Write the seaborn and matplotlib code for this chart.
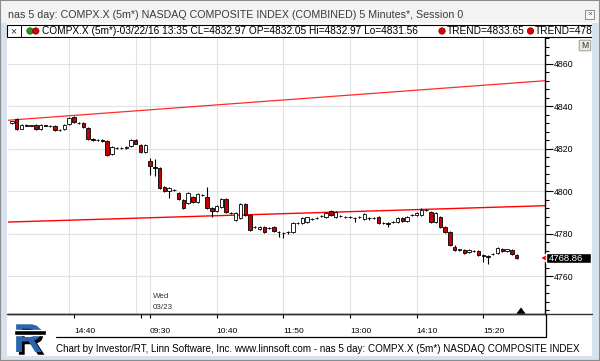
import matplotlib
matplotlib.use("Agg")
import matplotlib.pyplot as plt
from matplotlib.patches import Rectangle, Polygon, Circle, FancyBboxPatch
from matplotlib.ticker import MultipleLocator
import matplotlib.patheffects as pe
import numpy as np
import seaborn as sns

W, H = 600, 361

# 5 minute bars: 0 = 03/22 13:35 ... 28 = 15:55, 29 = 03/23 09:30 ... 106 = 15:55
opens = [4832.05, 4834.2, 4829.6, 4831.2, 4831.0, 4831.5, 4829.5, 4831.1, 4830.9, 4831.0,
         4829.0, 4829.2, 4831.8, 4835.1, 4832.4, 4832.2, 4829.9, 4824.5, 4824.1, 4824.0,
         4823.8, 4817.6, 4820.6, 4820.4, 4820.5, 4821.5, 4824.4, 4822.0, 4818.6,
         4814.4, 4811.3, 4811.0, 4802.1, 4800.2, 4800.9, 4799.3, 4796.0, 4794.6, 4797.4,
         4795.1, 4798.5, 4797.4, 4792.2, 4790.8, 4792.7, 4796.5, 4790.0, 4786.6, 4787.5,
         4794.1, 4788.9, 4783.2, 4782.5, 4783.3, 4782.7, 4783.3, 4781.0, 4780.5, 4780.8,
         4780.9, 4785.1, 4785.2, 4785.6, 4787.1, 4787.4, 4788.4, 4788.0, 4790.8, 4788.0,
         4788.4, 4788.1, 4788.1, 4787.6, 4788.0, 4787.1, 4787.6, 4787.4, 4788.0, 4785.1,
         4785.0, 4785.5, 4785.6, 4787.5, 4786.1, 4788.8, 4788.9, 4789.0, 4791.2, 4790.4,
         4785.6, 4788.0, 4783.3, 4780.9, 4773.9, 4772.6, 4772.5, 4771.5, 4771.9, 4772.0,
         4770.1, 4769.6, 4770.5, 4771.1, 4772.9, 4771.8, 4772.4, 4770.2]
highs = [4832.97, 4834.7, 4831.9, 4831.6, 4831.4, 4831.9, 4831.7, 4831.5, 4831.2, 4831.4,
         4829.5, 4831.9, 4835.0, 4835.5, 4832.9, 4832.6, 4830.3, 4825.0, 4824.5, 4824.5,
         4824.2, 4821.3, 4821.1, 4820.8, 4821.2, 4824.8, 4824.9, 4822.4, 4822.3,
         4815.8, 4815.5, 4811.5, 4802.5, 4802.0, 4801.3, 4799.8, 4796.4, 4799.8, 4797.9,
         4799.2, 4799.0, 4802.0, 4792.6, 4793.6, 4796.9, 4796.9, 4790.4, 4790.3, 4794.5,
         4794.5, 4789.3, 4783.8, 4783.7, 4783.7, 4783.3, 4783.7, 4781.6, 4780.9, 4781.5,
         4785.6, 4785.7, 4787.9, 4788.2, 4787.5, 4788.0, 4788.8, 4790.3, 4791.2, 4790.8,
         4789.0, 4788.6, 4788.5, 4788.0, 4788.4, 4789.8, 4788.0, 4788.0, 4788.4, 4785.6,
         4785.4, 4786.1, 4787.9, 4787.9, 4788.4, 4789.4, 4790.3, 4792.2, 4791.8, 4790.8,
         4790.3, 4788.4, 4783.7, 4781.3, 4774.8, 4773.1, 4772.9, 4772.9, 4772.5, 4772.4,
         4770.5, 4770.0, 4771.1, 4773.8, 4773.3, 4773.1, 4772.8, 4770.6]
lows = [4831.56, 4828.9, 4829.2, 4830.6, 4830.6, 4829.0, 4829.1, 4830.7, 4830.4, 4828.4,
        4828.3, 4828.9, 4831.4, 4832.3, 4831.6, 4830.0, 4824.3, 4823.6, 4823.6, 4823.2,
        4816.8, 4817.2, 4819.9, 4820.0, 4820.1, 4821.1, 4822.1, 4818.2, 4818.2,
        4807.8, 4807.5, 4801.2, 4799.8, 4797.0, 4800.2, 4796.0, 4791.8, 4794.2, 4794.7,
        4794.7, 4797.9, 4791.8, 4788.0, 4790.4, 4792.3, 4790.0, 4789.3, 4786.2, 4787.1,
        4788.5, 4781.5, 4782.6, 4782.1, 4780.5, 4782.2, 4781.0, 4778.6, 4778.0, 4780.2,
        4780.5, 4784.6, 4784.8, 4785.2, 4786.6, 4786.9, 4788.1, 4787.6, 4788.5, 4787.6,
        4787.9, 4787.5, 4787.5, 4785.6, 4787.6, 4786.7, 4786.4, 4786.9, 4784.8, 4784.5,
        4783.3, 4785.0, 4785.2, 4785.7, 4785.7, 4788.3, 4788.5, 4788.6, 4790.8, 4785.2,
        4785.2, 4782.9, 4780.5, 4774.4, 4772.0, 4772.2, 4770.7, 4771.1, 4771.5, 4769.7,
        4767.0, 4765.9, 4770.1, 4770.7, 4771.6, 4771.4, 4770.2, 4768.0]
closes = [4832.97, 4829.5, 4831.5, 4831.0, 4831.1, 4829.4, 4831.3, 4830.9, 4830.7, 4829.0,
          4829.1, 4831.5, 4834.6, 4832.7, 4832.2, 4830.4, 4824.7, 4824.2, 4824.0, 4823.8,
          4817.2, 4820.9, 4820.5, 4820.3, 4820.8, 4824.4, 4822.5, 4818.6, 4821.9,
          4812.0, 4811.0, 4801.6, 4800.2, 4801.6, 4800.7, 4796.5, 4792.2, 4799.3, 4795.1,
          4798.8, 4798.4, 4792.2, 4790.8, 4793.2, 4796.5, 4790.4, 4789.9, 4789.9, 4794.1,
          4788.9, 4781.9, 4783.3, 4783.3, 4780.9, 4782.8, 4781.4, 4780.9, 4780.3, 4780.9,
          4785.2, 4785.2, 4787.5, 4787.8, 4787.0, 4787.5, 4788.5, 4789.9, 4788.9, 4790.4,
          4788.5, 4788.0, 4788.0, 4787.5, 4788.0, 4789.4, 4787.5, 4787.5, 4785.2, 4785.0,
          4784.9, 4785.6, 4787.5, 4786.1, 4788.0, 4788.9, 4789.9, 4791.3, 4791.3, 4785.6,
          4789.9, 4783.3, 4780.9, 4774.8, 4772.5, 4772.7, 4771.1, 4772.5, 4772.0, 4770.1,
          4769.5, 4769.4, 4770.6, 4773.4, 4772.0, 4772.7, 4770.6, 4768.86]

# trend lines, read at the left and right edge of the plot
trend_x = [-0.84, 111.97]
trend_hi = [4833.5, 4852.1]
trend_lo = [4785.6, 4793.3]

tick_bars = [13, 27, 29, 43, 57, 71, 85, 99]
tick_labels = ["14:40", "", "09:30", "10:40", "11:50", "13:00", "14:10", "15:20"]
grid_bars = [12, 26, 29, 43, 57, 71, 85, 99]

title = "nas 5 day: COMPX.X (5m*) NASDAQ COMPOSITE INDEX (COMBINED) 5 Minutes*, Session 0"
legend_main = "COMPX.X (5m*)-03/22/16 13:35 CL=4832.97 OP=4832.05 Hi=4832.97 Lo=4831.56"
legend_trends = ["TREND=4833.65", "TREND=4786"]
footer = ("Chart by Investor/RT, Linn Software, Inc. www.linnsoft.com - nas 5 day: "
          "COMPX.X (5m*) NASDAQ COMPOSITE INDEX")
last_price = "4768.86"

sns.set_theme(style="white")
plt.rcParams["font.family"] = ["Liberation Sans", "DejaVu Sans"]

FRAME = "#d6e2ee"
DOWN = "#c40000"
GRID = "#e2e2e2"

fig = plt.figure(figsize=(W / 100, H / 100), dpi=100)
fig.patch.set_facecolor("white")


def px_axes(z):
    a = fig.add_axes([0, 0, 1, 1], zorder=z)
    a.set_xlim(0, W); a.set_ylim(H, 0)
    a.axis("off")
    a.patch.set_alpha(0)
    return a


bg = px_axes(0)
bg.add_patch(Rectangle((0, 0), W, H, facecolor=FRAME, edgecolor="#8c8c8c", lw=1.5))
bg.add_patch(Rectangle((1, 1), W - 2, 22, facecolor="#f3f3f3", edgecolor="none"))
bg.add_patch(Rectangle((7, 23), 585, 333, facecolor="white", edgecolor="none"))
bg.text(8, 15.5, title, fontsize=7.7, color="#3a3a3a", va="center", ha="left")
# close icon
bg.add_patch(Rectangle((585, 10), 9, 9, facecolor="#f7f7f7", edgecolor="#8a8a8a", lw=0.7))
bg.text(589.5, 14.5, "×", fontsize=6, color="#555", ha="center", va="center")

# legend row
bg.add_patch(Rectangle((7, 24.5), 590, 12.5, facecolor="white", edgecolor="black", lw=0.8))
bg.plot([20.5, 20.5], [24.5, 37], color="black", lw=0.7)
bg.text(13.5, 30.8, "×", fontsize=7.5, ha="center", va="center", color="#333")
bg.add_patch(Circle((30, 31), 3.2, facecolor="#1f9a1f", edgecolor="#0b4d0b", lw=0.5))
bg.add_patch(Circle((35.8, 31), 3.2, facecolor="#e00000", edgecolor="#700000", lw=0.5))
bg.text(41.5, 31, legend_main, fontsize=7.3, va="center", ha="left", color="black")
for dot_x, txt in zip([442, 530.5], legend_trends):
    bg.add_patch(Circle((dot_x, 31), 3.2, facecolor="#e00000", edgecolor="#700000", lw=0.5))
    bg.text(dot_x + 4.5, 31, txt, fontsize=7.3, va="center", ha="left", color="black")

# logo: blue R with a black shadow and a small banner
bg.text(28, 352, "R", fontsize=29, fontweight="bold", color="#2a66b0", ha="center",
        va="baseline",
        path_effects=[pe.SimplePatchShadow(offset=(2, -2), shadow_rgbFace="black", alpha=1),
                      pe.Normal()])
bg.add_patch(Rectangle((14, 330), 32, 4.5, facecolor="black", zorder=5))

bg.text(56, 348.5, footer, fontsize=7.1, va="center", ha="left", color="black")

# main price plot
ax = fig.add_axes([8 / W, (H - 314) / H, (545 - 8) / W, (314 - 38) / H], zorder=1)
ax.set_facecolor("white")

for b in grid_bars:
    ax.axvline(b, color=GRID, lw=0.8, zorder=0)

sns.lineplot(x=trend_x, y=trend_hi, color="#ff2a2a", lw=0.9, ax=ax, zorder=2)
sns.lineplot(x=trend_x, y=trend_lo, color="#ff0000", lw=1.0, ax=ax, zorder=2)

o = np.array(opens); c = np.array(closes)
bars = np.arange(len(o))
ax.vlines(bars, lows, highs, color="black", lw=0.8, zorder=3)
body_colors = np.where(c >= o, "white", DOWN)
ax.bar(bars, np.abs(c - o), bottom=np.minimum(o, c), width=0.72, color=body_colors,
       edgecolor="black", linewidth=0.6, zorder=4)

ax.set_xlim(-0.84, 111.97)
ax.set_ylim(4742.35, 4872.2)
ax.set_xlabel(""); ax.set_ylabel("")

ax.yaxis.tick_right()
ax.yaxis.set_major_locator(MultipleLocator(20))
ax.yaxis.set_minor_locator(MultipleLocator(4))
ax.tick_params(axis="y", which="both", left=False, right=True, labelleft=False,
               labelright=True, direction="out", width=0.8, colors="black")
ax.tick_params(axis="y", which="major", length=6, pad=0.5, labelsize=6.3)
ax.tick_params(axis="y", which="minor", length=3)
ax.grid(axis="y", which="major", color=GRID, lw=0.8)
ax.grid(axis="x", visible=False)

ax.set_xticks(tick_bars)
ax.set_xticklabels(tick_labels, ha="left", fontsize=6)
ax.tick_params(axis="x", bottom=True, length=3, width=0.8, direction="out", pad=7,
               colors="black")

for side in ["top", "left"]:
    ax.spines[side].set_visible(False)
for side in ["right", "bottom"]:
    ax.spines[side].set_color("black")
    ax.spines[side].set_linewidth(1.0)

# overlay marks
fg = px_axes(2)
fg.plot([7, 592], [314, 314], color="#333333", lw=1.0)
fg.plot([56, 545.5, 545.5], [337, 337, 314], color="black", lw=0.9)
fg.text(153, 297, "Wed", fontsize=5.8, color="#333", va="center", ha="left")
fg.text(153, 307.5, "03/23", fontsize=5.8, color="#333", va="center", ha="left")
fg.add_patch(Polygon([(517, 313.5), (525, 313.5), (521, 308)], closed=True,
                     facecolor="black", edgecolor="black", lw=0.5))
fg.add_patch(Polygon([(540, 258), (547, 254), (547, 262)], closed=True, facecolor="red"))
fg.add_patch(Rectangle((546, 253), 45, 10, facecolor="black"))
fg.text(548.5, 258.2, last_price, fontsize=6.8, color="white", va="center", ha="left")
fg.add_patch(FancyBboxPatch((580, 41), 10, 9, boxstyle="round,pad=0.8",
                            facecolor="#ece8dc", edgecolor="#9a9a9a", lw=0.7))
fg.text(585, 45.8, "M", fontsize=6.2, color="#333", ha="center", va="center")
fg.add_patch(Rectangle((592, 23), 7, 334, facecolor=FRAME, edgecolor="none"))
fg.add_patch(Rectangle((0, 0), W, H, facecolor="none", edgecolor="#8c8c8c", lw=1.5))

fig.savefig("out.png", dpi=100)
